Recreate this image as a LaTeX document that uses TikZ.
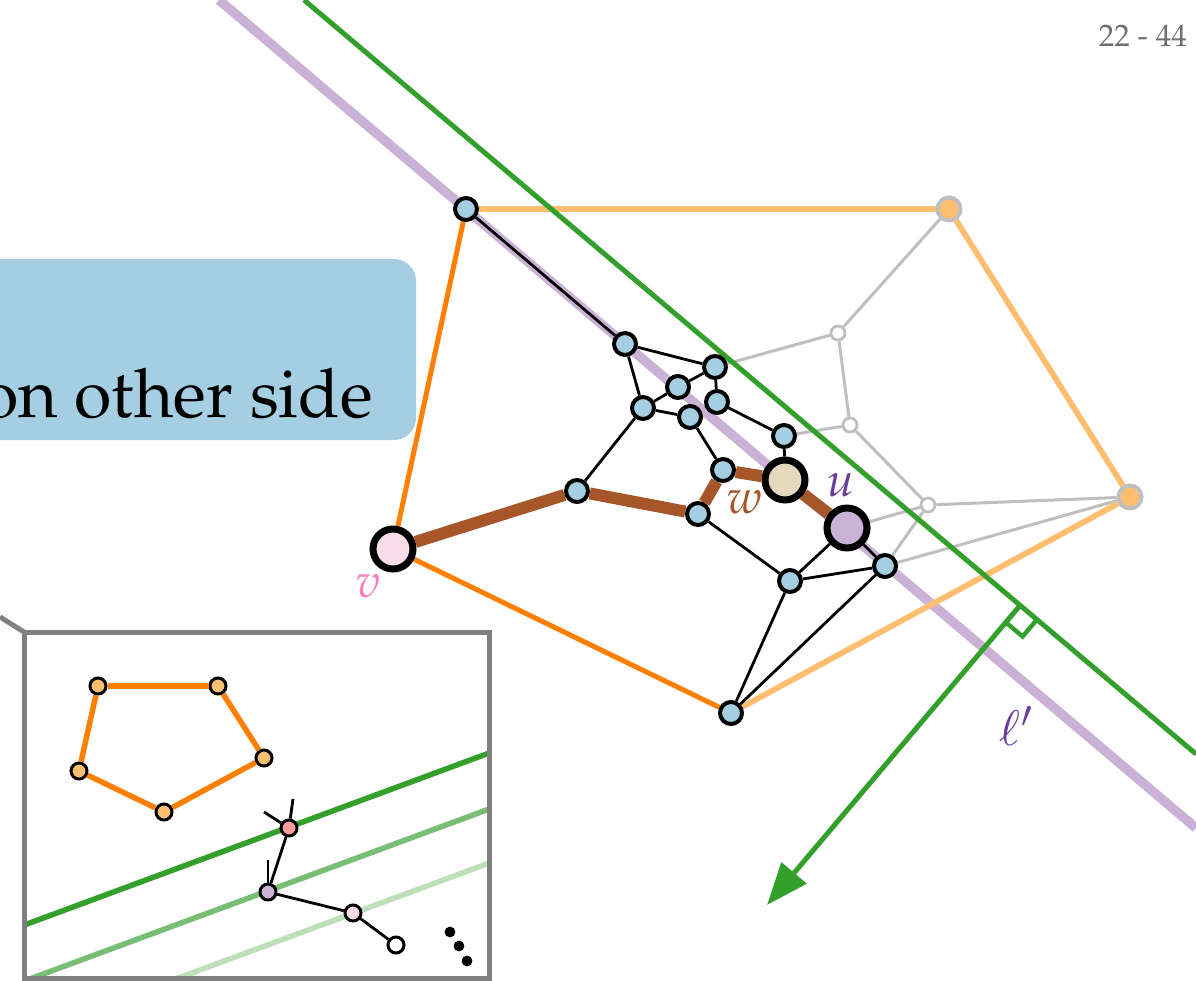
\documentclass[tikz,border=0pt]{standalone}
\usepackage[T1]{fontenc}
\usepackage{mathpazo}
\usetikzlibrary{arrows.meta,calc}
\definecolor{cblue}{HTML}{A6CEE3}
\definecolor{lorange}{HTML}{FDBF6F}
\definecolor{dorange}{HTML}{FF7F00}
\definecolor{cgreen}{HTML}{33A02C}
\definecolor{mgreen}{HTML}{78BE74}
\definecolor{lgreen}{HTML}{BDE0B9}
\definecolor{lpurple}{HTML}{CAB2D6}
\definecolor{dpurple}{HTML}{6A3D9A}
\definecolor{cbrown}{HTML}{A65628}
\definecolor{lpink}{HTML}{FBDDEA}
\definecolor{cpink}{HTML}{F781BF}
\definecolor{cbeige}{HTML}{E6D8BC}
\definecolor{cred}{HTML}{FB9A99}
\definecolor{lgray}{HTML}{BFBFBF}
\definecolor{bgray}{HTML}{808080}
\definecolor{pgray}{HTML}{6E6E6E}
\pgfdeclarelayer{bg}
\pgfsetlayers{bg,main}
\tikzset{
  bnode/.style={circle, fill=cblue, draw=black, line width=4pt, minimum size=22pt, inner sep=0pt},
  bignode/.style={circle, draw=black, line width=7pt, minimum size=40pt, inner sep=0pt},
  hullnode/.style={circle, fill=lorange, draw=lgray, line width=4pt, minimum size=23pt, inner sep=0pt},
  opennode/.style={circle, fill=white, draw=lgray, line width=2.8pt, minimum size=14pt, inner sep=0pt},
  inode/.style={circle, draw=black, line width=3pt, minimum size=16pt, inner sep=0pt},
  blackedge/.style={draw=black, line width=2.8pt},
  grayedge/.style={draw=lgray, line width=3pt},
  brownpath/.style={draw=cbrown, line width=12pt},
  orangeedge/.style={draw=dorange, line width=5pt},
  lorangeedge/.style={draw=lorange, line width=5.8pt},
  lbl/.style={font=\fontsize{48}{50}\selectfont},
}
\begin{document}
\begin{tikzpicture}[x=1pt,y=-1pt]
\useasboundingbox (0,0) rectangle (1196,981);

% page number
\node[anchor=base east, text=pgray, font=\fontsize{31}{32}\selectfont, inner sep=0pt] (pg) at (1187,47) {22 - 44};

% nodes of the main graph
\node[bnode] (T) at (466,209) {};
\node[hullnode] (TR) at (949,209) {};
\node[hullnode] (R) at (1130,497) {};
\node[bnode] (B) at (731,713) {};
\node[bignode, fill=lpink] (v) at (393,549) {};
\node[bignode, fill=cbeige] (w) at (785,480) {};
\node[bignode, fill=lpurple] (u) at (847,528) {};
\node[bnode] (a1) at (625,344) {};
\node[bnode] (a2) at (715,367) {};
\node[bnode] (a3) at (678,387) {};
\node[bnode] (a4) at (717,402) {};
\node[bnode] (a5) at (643,408) {};
\node[bnode] (a6) at (690,417) {};
\node[bnode] (a7) at (784,436) {};
\node[bnode] (a8) at (723,470) {};
\node[bnode] (a9) at (577,491) {};
\node[bnode] (a10) at (698,514) {};
\node[bnode] (a11) at (790,581) {};
\node[bnode] (a12) at (885,566) {};
\node[opennode] (g1) at (838,333) {};
\node[opennode] (g2) at (850,425) {};
\node[opennode] (g3) at (928,505) {};

\coordinate (p1s) at (219,0);
\coordinate (p1e) at (1196,828);
\coordinate (g1s) at (304,0);
\coordinate (g1e) at (1196,754);
\coordinate (foot) at (1020,605.5);
\coordinate (tip) at (767,905);

\begin{pgfonlayer}{bg}
  % gray edges
  \draw[grayedge] (a2) -- (g1);
  \draw[grayedge] (g1) -- (TR);
  \draw[grayedge] (g1) -- (g2);
  \draw[grayedge] (a7) -- (g2);
  \draw[grayedge] (g2) -- (g3);
  \draw[grayedge] (u) -- (g3);
  \draw[grayedge] (a12) -- (g3);
  \draw[grayedge] (g3) -- (R);
  \draw[grayedge] (a12) -- (R);
  % line l'
  \draw[lpurple, line width=9.5pt] (p1s) -- (p1e);
  % hull
  \draw[orangeedge] (T) -- (v);
  \draw[orangeedge] (v) -- (B);
  \draw[lorangeedge] (T) -- (TR);
  \draw[lorangeedge] (TR) -- (R);
  \draw[lorangeedge] (R) -- (B);
  % green line
  \draw[cgreen, line width=5pt] (g1s) -- (g1e);
  % black edges
  \draw[blackedge] (T) -- (a1);
  \draw[blackedge] (a1) -- (a2);
  \draw[blackedge] (a1) -- (a5);
  \draw[blackedge] (a2) -- (a3);
  \draw[blackedge] (a2) -- (a4);
  \draw[blackedge] (a3) -- (a5);
  \draw[blackedge] (a5) -- (a6);
  \draw[blackedge] (a4) -- (a7);
  \draw[blackedge] (a6) -- (a8);
  \draw[blackedge] (a5) -- (a9);
  \draw[blackedge] (w) -- (a7);
  \draw[blackedge] (a10) -- (a11);
  \draw[blackedge] (u) -- (a11);
  \draw[blackedge] (u) -- (a12);
  \draw[blackedge] (a11) -- (a12);
  \draw[blackedge] (B) -- (a11);
  \draw[blackedge] (B) -- (a12);
  % brown path
  \draw[brownpath] (v) -- (a9);
  \draw[brownpath] (a9) -- (a10);
  \draw[brownpath] (a10) -- (a8);
  \draw[brownpath] (a8) -- (w);
  \draw[brownpath] (w) -- (u);
\end{pgfonlayer}

% normal arrow with right angle mark
\draw[cgreen, line width=5pt, -{Triangle[length=42pt,width=32pt]}] (foot) -- (tip);
\draw[cgreen, line width=4.4pt, line join=miter]
  ($(foot)+(-14.2,16.8)$) -- ++(16.8,14.2) -- ++(14.2,-16.8);

% labels
\node[lbl, text=cpink] (lv) at (368,586) {$v$};
\node[lbl, text=cbrown] (lw) at (745,502) {$w$};
\node[lbl, text=dpurple] (lu) at (841,485) {$u$};
\node[lbl, text=dpurple] (ll) at (1016,726) {$\ell'$};

% text box
\fill[cblue, rounded corners=22pt] (-60,259) rectangle (416,440);
\node[anchor=base east, font=\fontsize{68}{70}\selectfont, inner sep=0pt] (txt) at (373,417) {on other side};

% inset
\draw[bgray, line width=5pt] (0,617) -- (24,632);
\fill[white] (24,632) rectangle (489,978);
\begin{scope}
  \clip (24,632) rectangle (489,978);
  \draw[lgreen, line width=5.5pt] (100,1007) -- (500,859);
  \draw[mgreen, line width=5.5pt] (0,990) -- (500,805);
  \draw[cgreen, line width=5.5pt] (0,934) -- (500,749);
\end{scope}
\draw[bgray, line width=5pt] (24,632) rectangle (489,978);

\node[inode, fill=lorange] (q1) at (98,686) {};
\node[inode, fill=lorange] (q2) at (218,686) {};
\node[inode, fill=lorange] (q3) at (264,758) {};
\node[inode, fill=lorange] (q4) at (164,812) {};
\node[inode, fill=lorange] (q5) at (79,771) {};
\node[inode, fill=cred] (r1) at (289,828) {};
\node[inode, fill=lpurple] (r2) at (268,892) {};
\node[inode, fill=lpink] (r3) at (353,913) {};
\node[inode, fill=white] (r4) at (396,945) {};
\coordinate (s1) at (264,812);
\coordinate (s2) at (293,799);
\coordinate (s3) at (268,860);
\draw[dorange, line width=5.5pt] (q1) -- (q2);
\draw[dorange, line width=5.5pt] (q2) -- (q3);
\draw[dorange, line width=5.5pt] (q3) -- (q4);
\draw[dorange, line width=5.5pt] (q4) -- (q5);
\draw[dorange, line width=5.5pt] (q5) -- (q1);
\draw[blackedge] (r1) -- (r2);
\draw[blackedge] (r2) -- (r3);
\draw[blackedge] (r3) -- (r4);
\draw[blackedge] (r1) -- (s1);
\draw[blackedge] (r1) -- (s2);
\draw[blackedge] (r2) -- (s3);
\fill (450,932) circle (5.4);
\fill (459,946) circle (5.4);
\fill (467,961) circle (5.4);
\end{tikzpicture}
\end{document}
